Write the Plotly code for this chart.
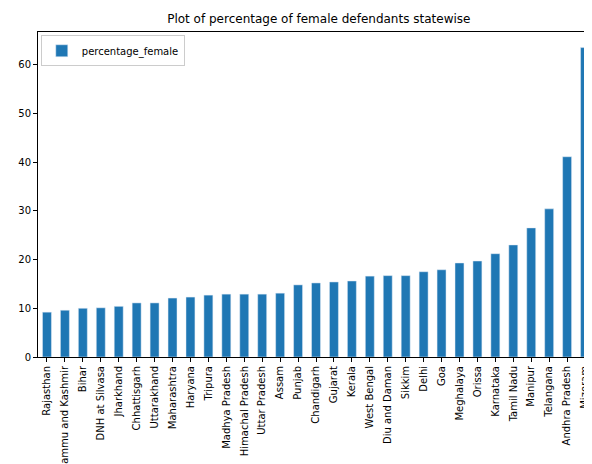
import plotly.graph_objects as go

states = ["Rajasthan", "Jammu and Kashmir", "Bihar", "DNH at Silvasa", "Jharkhand",
          "Chhattisgarh", "Uttarakhand", "Maharashtra", "Haryana", "Tripura",
          "Madhya Pradesh", "Himachal Pradesh", "Uttar Pradesh", "Assam", "Punjab",
          "Chandigarh", "Gujarat", "Kerala", "West Bengal", "Diu and Daman", "Sikkim",
          "Delhi", "Goa", "Meghalaya", "Orissa", "Karnataka", "Tamil Nadu", "Manipur",
          "Telangana", "Andhra Pradesh", "Mizoram"]
percentage_female = [9.2, 9.6, 10.0, 10.1, 10.4, 11.1, 11.1, 12.1, 12.3, 12.7,
                     12.9, 12.9, 12.9, 13.1, 14.8, 15.2, 15.4, 15.6, 16.6, 16.7, 16.7,
                     17.5, 17.9, 19.3, 19.7, 21.2, 23.0, 26.5, 30.4, 41.1, 63.5]

fig = go.Figure()
fig.add_trace(go.Bar(x=states, y=percentage_female, name="percentage_female",
                     marker_color="#1f77b4", width=0.5, showlegend=True))

axis = dict(showline=True, linecolor="black", mirror=True, ticks="outside",
            ticklen=4, tickcolor="black", showgrid=False, zeroline=False,
            automargin=False)
fig.update_layout(
    width=592, height=464,
    paper_bgcolor="white", plot_bgcolor="white",
    margin=dict(l=30, r=6, t=24, b=115),
    font=dict(family="DejaVu Sans", size=10, color="black"),
    title=dict(text="Plot of percentage of female defendants statewise",
               x=0.525, xanchor="center", y=0.985, yanchor="top",
               font=dict(size=12)),
    xaxis=dict(**axis, tickangle=-90, range=[-0.5, 30.5]),
    yaxis=dict(**axis, range=[0, 66.7], dtick=10),
    legend=dict(x=0.005, y=0.99, xanchor="left", yanchor="top",
                bordercolor="#cccccc", borderwidth=1, bgcolor="white",
                itemwidth=30, font=dict(size=10)),
)
fig.write_html("out.html")
